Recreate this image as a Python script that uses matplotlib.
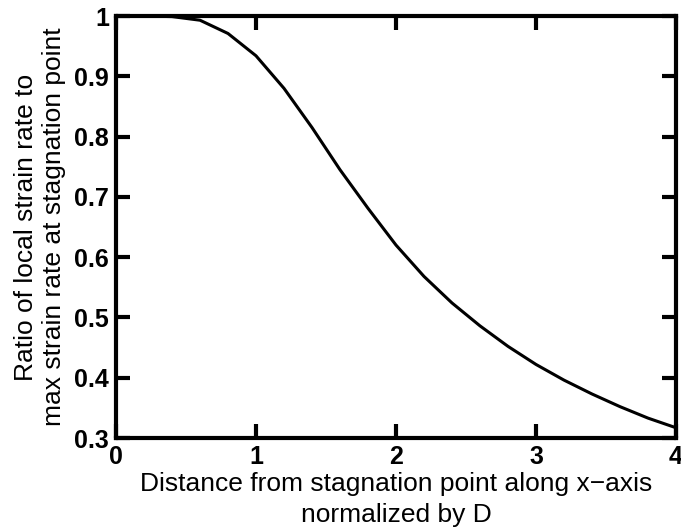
import matplotlib
matplotlib.use("Agg")
import matplotlib.pyplot as plt

x_vals = [0.0, 0.2, 0.4, 0.6, 0.8, 1.0, 1.2, 1.4, 1.6, 1.8, 2.0,
          2.2, 2.4, 2.6, 2.8, 3.0, 3.2, 3.4, 3.6, 3.8, 4.0]
ratio_vals = [1.0, 1.0, 0.999, 0.993, 0.971, 0.934, 0.880, 0.815, 0.745, 0.681, 0.620,
              0.568, 0.524, 0.486, 0.452, 0.422, 0.396, 0.373, 0.352, 0.333, 0.317]
x_ticks = [0, 1, 2, 3, 4]
x_ticklabels = ["0", "1", "2", "3", "4"]
y_ticks = [0.3, 0.4, 0.5, 0.6, 0.7, 0.8, 0.9, 1.0]
y_ticklabels = ["0.3", "0.4", "0.5", "0.6", "0.7", "0.8", "0.9", "1"]

plt.rcParams['font.family'] = ['Liberation Sans', 'DejaVu Sans']

fig = plt.figure(figsize=(6.81, 5.31), dpi=100)
ax = fig.add_axes([116/681, 1-438/531, 560/681, 422/531])
ax.plot(x_vals, ratio_vals, color='black', linewidth=2.2)
ax.set_xlim(0, 4)
ax.set_ylim(0.3, 1.0)
ax.set_xticks(x_ticks)
ax.set_xticklabels(x_ticklabels, fontsize=18, fontweight='bold')
ax.set_yticks(y_ticks)
ax.set_yticklabels(y_ticklabels, fontsize=18, fontweight='bold')
ax.tick_params(direction='in', length=10, width=3, top=True, right=True, pad=5)
for s in ax.spines.values():
    s.set_linewidth(3)
ax.set_xlabel("Distance from stagnation point along x\u2212axis\nnormalized by D",
              fontsize=19, labelpad=2, linespacing=1.4)
ax.set_ylabel("Ratio of local strain rate to\nmax strain rate at stagnation point",
              fontsize=19, labelpad=6, linespacing=1.2)
fig.savefig("out.png", dpi=100)
